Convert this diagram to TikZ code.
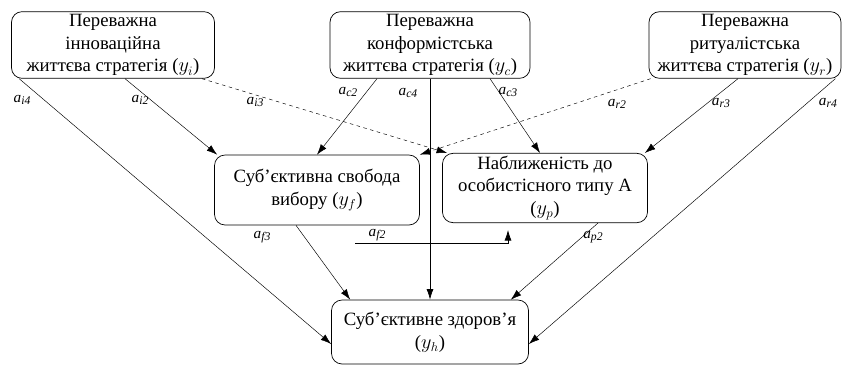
\documentclass[tikz,border=0pt]{standalone}
\usepackage{fontspec}
\setmainfont{Liberation Serif}
\usepackage{tikz}
\usetikzlibrary{arrows.meta,calc}
\tikzstyle{box} = [draw, line width=0.6pt, rounded corners=9pt, align=center, inner sep=2pt, font=\fontsize{16}{19.5}\selectfont]
\tikzstyle{arrow} = [-{Latex[length=9pt,width=6pt]}, line width=0.6pt]
\tikzstyle{arrowd} = [arrow, dashed]
\tikzstyle{lbl} = [font=\fontsize{13}{14}\selectfont]
\newcommand{\coef}[1]{\textit{a}\raisebox{-0.35ex}{\fontsize{10}{10}\selectfont\textit{#1}}}

\begin{document}
\begin{tikzpicture}[x=0.03cm,y=-0.03cm]
\useasboundingbox (0,0) rectangle (844,365);
% strategies
\node[box, minimum width=203*0.03cm, minimum height=66*0.03cm] (innov) at (113,45) {Переважна\\інноваційна\\життєва стратегія ($y_i$)};
\node[box, minimum width=200*0.03cm, minimum height=66*0.03cm] (conf) at (430,45) {Переважна\\конформістська\\життєва стратегія ($y_c$)};
\node[box, minimum width=192*0.03cm, minimum height=66*0.03cm] (ritual) at (745,45) {Переважна\\ритуалістська\\життєва стратегія ($y_r$)};
% mediators
\node[box, minimum width=205*0.03cm, minimum height=70*0.03cm] (freedom) at (317,190) {Суб'єктивна свобода\\вибору ($y_f$)};
\node[box, minimum width=205*0.03cm, minimum height=67*0.03cm] (prox) at (545,188) {Наближеність до\\особистісного типу А\\($y_p$)};
% outcome
\node[box, minimum width=197*0.03cm, minimum height=64*0.03cm] (health) at (430,332) {Суб'єктивне здоров'я\\($y_h$)};

% from y_i
\draw[arrow, thin] ($(innov.south west)+(8,0)$) -- ($(health.west)+(0,12)$);
\draw[arrow, thin] ($(innov.south)+(12,0)$) -- ($(freedom.north west)+(3,0)$);
\draw[arrowd, thin] ($(innov.south east)+(-13,0)$) -- ($(prox.north west)+(5,0)$);
\node[lbl] (li4) at (22,100) {\coef{i4}};
\node[lbl] (li2) at (140,100) {\coef{i2}};
\node[lbl] (li3) at (255,102) {\coef{i3}};
% from y_c
\draw[arrow, thin] ($(conf.south)+(-53,0)$) -- (freedom.north);
\draw[arrow] (conf.south) -- (health.north);
\draw[arrow, thin] ($(conf.south)+(60,0)$) -- ($(prox.north)+(-5,0)$);
\node[lbl] (lc2) at (348,92) {\coef{c2}};
\node[lbl] (lc4) at (408,93) {\coef{c4}};
\node[lbl] (lc3) at (508,92) {\coef{c3}};
% from y_r
\draw[arrowd, thin] ($(ritual.south west)+(2,0)$) -- (freedom.north east);
\draw[arrow, thin] ($(ritual.south)+(-7,0)$) -- ($(prox.north east)+(-3,0)$);
\draw[arrow, thin] ($(ritual.south east)+(-6,0)$) -- ($(health.east)+(0,12)$);
\node[lbl] (lr2) at (617,104) {\coef{r2}};
\node[lbl] (lr3) at (721,103) {\coef{r3}};
\node[lbl] (lr4) at (828,103) {\coef{r4}};
% from mediators
\draw[arrow, thin] ($(freedom.south)+(-21,0)$) -- ($(health.north west)+(19,0)$);
\coordinate (fp1) at (355,243);
\coordinate (fp2) at (508,230);
\draw[arrow] (fp1) -| (fp2);
\draw[arrow, thin] ($(prox.south)+(53,0)$) -- ($(health.north east)+(-18,0)$);
\node[lbl] (lf3) at (262,237) {\coef{f3}};
\node[lbl] (lf2) at (377,235) {\coef{f2}};
\node[lbl] (lp2) at (593,237) {\coef{p2}};
\end{tikzpicture}
\end{document}
